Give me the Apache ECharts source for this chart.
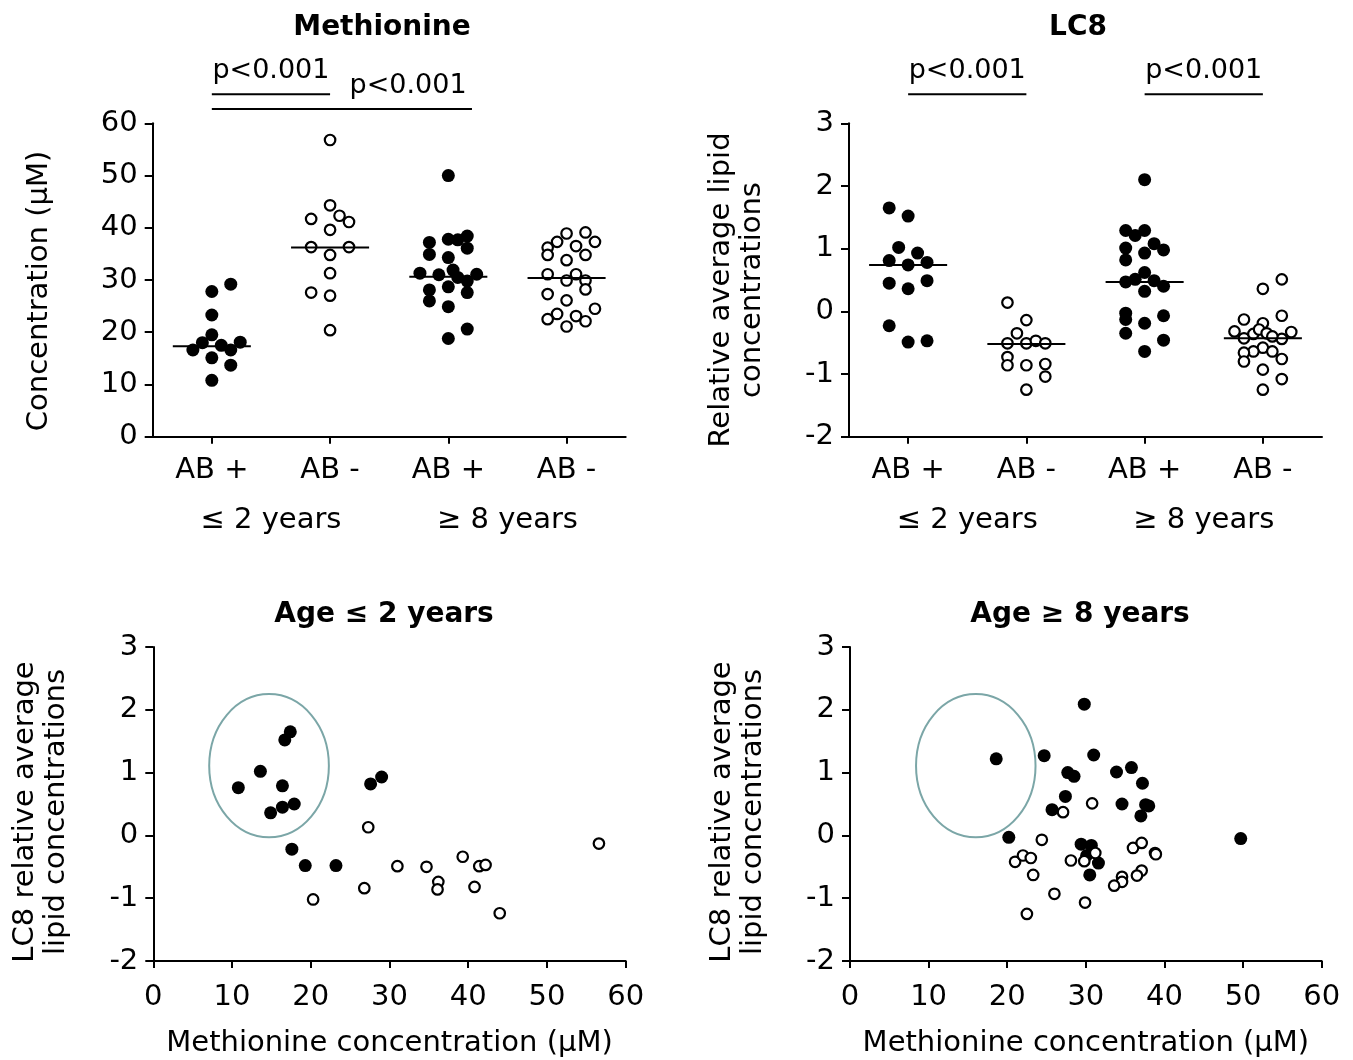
<!DOCTYPE html>
<html><head><meta charset="utf-8">
<script src="https://cdn.jsdelivr.net/npm/echarts@6/dist/echarts.min.js"></script>
<style>html,body{margin:0;padding:0;background:#fff}#c{width:1353px;height:1060px}</style>
</head><body><div id="c"></div>
<script>
// ---------- categories / labels ----------
const groupLabels = ['AB +', 'AB -', 'AB +', 'AB -'];
const ageLabels = ['≤ 2 years', '≥ 8 years'];
const panelTitles = ['Methionine', 'LC8', 'Age ≤ 2 years', 'Age ≥ 8 years'];
const pLabel = 'p<0.001';

// ---------- Methionine (µM): [value, jitter slot] ----------
const methAbPosYoung = [[27.8,0],[29.2,2],[23.3,0],[19.5,0],[18.0,-1],[16.6,-2],[17.5,1],[16.6,2],[18.1,3],[15.1,0],[13.7,2],[10.8,0]];
const methAbNegYoung = [[56.8,0],[44.3,0],[41.7,-2],[42.3,1],[41.1,2],[39.6,0],[36.3,-2],[36.3,2],[34.8,0],[31.3,0],[27.6,-2],[27.0,0],[20.4,0]];
const methAbPosOld = [[50.0,0],[37.2,-2],[37.8,0],[37.7,1],[38.4,2],[36.1,2],[34.9,-2],[34.3,0],[31.9,0.5],[31.3,-3],[31.0,-1],[30.5,1],[31.1,3],[29.8,2],[28.7,0],[28.1,-2],[27.6,2],[26.0,-2],[24.9,0],[20.6,2],[18.8,0]];
const methAbNegOld = [[38.9,0],[39.1,2],[37.3,-1],[37.3,3],[36.2,-2],[36.5,1],[34.8,-2],[34.8,2],[33.8,0],[31.1,-2],[31.1,1],[29.9,0],[29.9,2],[28.2,2],[27.3,-2],[26.1,0],[24.5,3],[23.5,-1],[23.1,1],[22.5,-2],[22.1,2],[21.1,0]];
const methMedians = [17.3, 36.2, 30.6, 30.4];

// ---------- LC8 relative average lipid concentrations: [value, jitter slot] ----------
const lc8AbPosYoung = [[1.65,-2],[1.52,0],[1.02,-1],[0.93,1],[0.81,-2],[0.74,0],[0.78,2],[0.45,-2],[0.49,2],[0.36,0],[-0.23,-2],[-0.49,0],[-0.47,2]];
const lc8AbNegYoung = [[0.14,-2],[-0.14,0],[-0.35,-1],[-0.51,-2],[-0.51,0],[-0.47,1],[-0.51,2],[-0.73,-2],[-0.86,-2],[-0.86,0],[-0.84,2],[-1.04,2],[-1.25,0]];
const lc8AbPosOld = [[2.10,0],[1.29,-2],[1.21,-1],[1.29,0],[1.08,1],[1.01,-2],[0.98,2],[0.93,0],[0.82,-2],[0.62,0],[0.51,-1],[0.49,1],[0.47,-2],[0.40,2],[0.32,0],[-0.03,-2],[-0.13,-2],[-0.07,2],[-0.19,0],[-0.35,-2],[-0.46,2],[-0.64,0]];
const lc8AbNegOld = [[0.51,2],[0.36,0],[-0.13,-2],[-0.07,2],[-0.19,0],[-0.32,-3],[-0.33,3],[-0.43,-2],[-0.44,2],[-0.36,-1],[-0.29,-0.4],[-0.35,0.4],[-0.40,1],[-0.58,0],[-0.64,-1],[-0.64,1],[-0.66,-2],[-0.80,-2],[-0.76,2],[-0.93,0],[-1.08,2],[-1.25,0]];
const lc8Medians = [0.74, -0.52, 0.47, -0.43];

// ---------- Scatter: [methionine µM, LC8] ----------
const youngAbPos = [[10.8,0.76],[13.6,1.02],[16.7,1.52],[17.4,1.65],[16.4,0.79],[14.9,0.36],[16.4,0.45],[17.9,0.50],[27.6,0.82],[29.0,0.93],[17.6,-0.22],[19.3,-0.48],[23.2,-0.48]];
const youngAbNeg = [[27.3,0.13],[20.3,-1.02],[26.8,-0.84],[31.0,-0.49],[34.7,-0.50],[36.2,-0.74],[36.1,-0.86],[39.3,-0.34],[41.4,-0.49],[42.2,-0.47],[40.8,-0.82],[44.0,-1.24],[56.6,-0.13]];
const oldAbPos = [[29.8,2.09],[18.6,1.22],[24.7,1.27],[31.0,1.28],[27.7,1.00],[28.5,0.94],[33.9,1.01],[35.8,1.08],[37.2,0.83],[27.4,0.62],[25.7,0.41],[34.6,0.50],[37.6,0.49],[38.0,0.47],[37.0,0.31],[20.2,-0.03],[29.4,-0.14],[30.7,-0.16],[30.1,-0.32],[31.6,-0.44],[30.5,-0.63],[49.7,-0.05]];
const oldAbNeg = [[30.8,0.51],[27.1,0.37],[24.4,-0.07],[21.0,-0.42],[22.0,-0.32],[23.0,-0.36],[23.3,-0.63],[28.1,-0.40],[29.8,-0.41],[31.2,-0.28],[36.0,-0.20],[37.1,-0.12],[38.8,-0.28],[38.9,-0.30],[37.1,-0.56],[36.5,-0.64],[34.6,-0.66],[34.6,-0.74],[33.6,-0.80],[26.0,-0.93],[29.9,-1.07],[22.5,-1.25]];
// ellipses: [centre x, centre y, radius x, radius y] in data units
const youngEllipse = [[14.7, 1.11, 7.6, 1.14]];
const oldEllipse = [[16.0, 1.11, 7.6, 1.14]];

// significance brackets (in group units)
const methBrackets = [{from:1,to:2,at:1.5,level:0},{from:1,to:3.2,at:2.66,level:1}];
const lc8Brackets = [{from:1,to:2,at:1.5,level:0},{from:3,to:4,at:3.5,level:0}];

// ---------- styling ----------
const FONT = 'DejaVu Sans';
const FS = 29;
const SLOT = 0.08, HALF = 0.33;
const teal = '#7BA6A7';

function dots(g, arr){ return arr.map(([v,s]) => [g + s*SLOT, v]); }

const axisLine = {show:true, onZero:false, lineStyle:{color:'#000', width:2}};
const axisTickY = {show:true, length:8, lineStyle:{color:'#000', width:2}};
const axisTickX = {show:true, length:7, lineStyle:{color:'#000', width:2}};
const lbl = (m) => ({color:'#000', fontSize:FS, fontFamily:FONT, margin:m});

const grids = [
  {left:152.7, top:123.3, width:473, height:313.4},
  {left:849, top:123.3, width:473, height:313.4},
  {left:153.3, top:647, width:472.4, height:314},
  {left:850, top:647, width:471.7, height:314}
];

function catAxes(gi){
  return [
    {type:'category', gridIndex:gi, data:groupLabels, position:'bottom', axisLine, axisTick:Object.assign({alignWithLabel:true}, axisTickX), axisLabel:Object.assign({interval:0}, lbl(19)), splitLine:{show:false}},
    {type:'category', gridIndex:gi, data:ageLabels, position:'bottom', offset:50, axisLine:{show:false}, axisTick:{show:false}, axisLabel:Object.assign({interval:0}, lbl(19)), splitLine:{show:false}},
    {type:'value', gridIndex:gi, min:0.5, max:4.5, show:false}
  ];
}
function valX(gi){
  return {type:'value', gridIndex:gi, min:0, max:60, interval:10, axisLine, axisTick:axisTickX, axisLabel:lbl(22), splitLine:{show:false},
    name:'Methionine concentration (μM)', nameLocation:'middle', nameGap:68, nameTextStyle:{color:'#000', fontSize:FS, fontFamily:FONT}};
}
function valY(gi, min, max, interval){
  return {type:'value', gridIndex:gi, min, max, interval, axisLine:Object.assign({}, axisLine), axisTick:axisTickY, axisLabel:lbl(15), splitLine:{show:false}};
}

const filled = {symbol:'circle', symbolSize:13, itemStyle:{color:'#000', opacity:1}, z:2};
const open = {symbol:'circle', symbolSize:10.5, itemStyle:{color:'#fff', borderColor:'#000', borderWidth:2.2, opacity:1}, z:3};

function scatter(x, y, data, st){ return Object.assign({type:'scatter', xAxisIndex:x, yAxisIndex:y, data, animation:false, silent:true}, st); }
function medianSeries(x, y, meds){
  return {type:'custom', xAxisIndex:x, yAxisIndex:y, z:4, animation:false, silent:true,
    data: meds.map((m,i)=>[i+1, m]),
    renderItem:(p, api)=>{
      const a = api.coord([api.value(0)-HALF, api.value(1)]);
      const b = api.coord([api.value(0)+HALF, api.value(1)]);
      return {type:'line', shape:{x1:a[0], y1:a[1], x2:b[0], y2:b[1]}, style:{stroke:'#000', lineWidth:2}};
    }};
}
function ellipseSeries(x, y, d){
  return {type:'custom', xAxisIndex:x, yAxisIndex:y, z:1, animation:false, silent:true, clip:false, data:d,
    renderItem:(p, api)=>{
      const c = api.coord([api.value(0), api.value(1)]);
      const s = api.size([api.value(2), api.value(3)]);
      return {type:'ellipse', shape:{cx:c[0], cy:c[1], rx:s[0], ry:s[1]}, style:{fill:'none', stroke:teal, lineWidth:2}};
    }};
}

const option = {
  backgroundColor:'#fff',
  animation:false,
  grid: grids,
  xAxis: [...catAxes(0), ...catAxes(1), valX(2), valX(3)],
  yAxis: [valY(0,0,60,10), valY(1,-2,3,1), valY(2,-2,3,1), valY(3,-2,3,1)],
  series: [
    scatter(2,0, dots(1,methAbPosYoung).concat(dots(3,methAbPosOld)), filled),
    scatter(2,0, dots(2,methAbNegYoung).concat(dots(4,methAbNegOld)), open),
    medianSeries(2,0, methMedians),
    scatter(5,1, dots(1,lc8AbPosYoung).concat(dots(3,lc8AbPosOld)), filled),
    scatter(5,1, dots(2,lc8AbNegYoung).concat(dots(4,lc8AbNegOld)), open),
    medianSeries(5,1, lc8Medians),
    ellipseSeries(6,2, youngEllipse),
    scatter(6,2, youngAbPos, filled),
    scatter(6,2, youngAbNeg, open),
    ellipseSeries(7,3, oldEllipse),
    scatter(7,3, oldAbPos, filled),
    scatter(7,3, oldAbNeg, open)
  ]
};

const chart = echarts.init(document.getElementById('c'), null, {renderer:'canvas'});
chart.setOption(option);

// ---------- annotations ----------
function txt(x, y, text, size, weight, rot){
  return {type:'text', x, y, rotation:rot||0, z:10,
    style:{text, fontSize:size, fontWeight:weight||'normal', fontFamily:FONT, fill:'#000', align:'center', verticalAlign:'middle', lineHeight:31}};
}
const g = [];
g.push(txt(382, 28, panelTitles[0], 28, 'bold'));
g.push(txt(1078, 28, panelTitles[1], 28, 'bold'));
g.push(txt(384, 615, panelTitles[2], 28, 'bold'));
g.push(txt(1080, 615, panelTitles[3], 28, 'bold'));
g.push(txt(39, 291, 'Concentration (μM)', FS, 'normal', Math.PI/2));
g.push(txt(737, 290, 'Relative average lipid\nconcentrations', FS, 'normal', Math.PI/2));
g.push(txt(40.5, 812, 'LC8 relative average\nlipid concentrations', FS, 'normal', Math.PI/2));
g.push(txt(737.5, 812, 'LC8 relative average\nlipid concentrations', FS, 'normal', Math.PI/2));

function brackets(xAxisIndex, list){
  list.forEach(b=>{
    const x1 = chart.convertToPixel({xAxisIndex}, b.from);
    const x2 = chart.convertToPixel({xAxisIndex}, b.to);
    const xt = chart.convertToPixel({xAxisIndex}, b.at);
    const ly = 94.3 + b.level*14.7;
    g.push({type:'line', z:10, shape:{x1, y1:ly, x2, y2:ly}, style:{stroke:'#000', lineWidth:2}});
    g.push(txt(xt, ly-23, pLabel, 27));
  });
}
brackets(2, methBrackets);
brackets(5, lc8Brackets);
chart.setOption({graphic: g});
</script>
</body></html>
